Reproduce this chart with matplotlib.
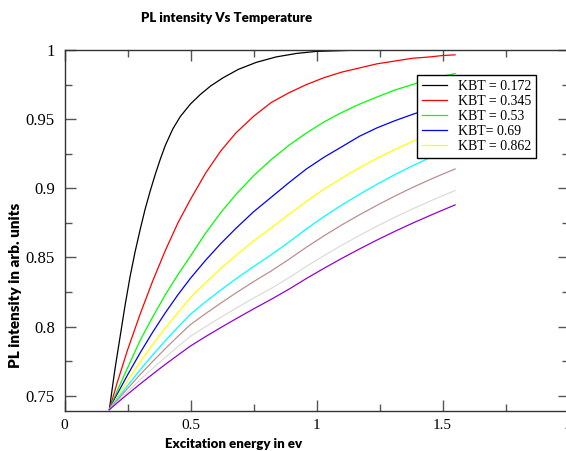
import matplotlib
matplotlib.use("Agg")
import matplotlib.pyplot as plt
from matplotlib.ticker import MultipleLocator

# ---------------- data ----------------
x_black = [0.178, 0.19, 0.20, 0.22, 0.24, 0.26, 0.28, 0.30, 0.32, 0.34, 0.36, 0.38,
           0.40, 0.43, 0.46, 0.50, 0.54, 0.58, 0.63, 0.69, 0.76, 0.84, 0.92, 1.00, 1.18]
y_black = [0.740, 0.756, 0.769, 0.792, 0.815, 0.836, 0.854, 0.870, 0.885, 0.898,
           0.910, 0.921, 0.931, 0.943, 0.952, 0.961, 0.968, 0.974, 0.980, 0.986,
           0.991, 0.995, 0.9975, 0.999, 1.000]

x_common = [0.178, 0.21, 0.25, 0.30, 0.35, 0.40, 0.45, 0.50, 0.56, 0.62, 0.68, 0.75,
            0.82, 0.89, 0.96, 1.03, 1.10, 1.17, 1.24, 1.31, 1.38, 1.45, 1.50, 1.55]
y_red = [0.740, 0.760, 0.783, 0.809, 0.833, 0.855, 0.875, 0.892, 0.911, 0.927,
         0.940, 0.952, 0.962, 0.969, 0.975, 0.980, 0.984, 0.987, 0.990, 0.992,
         0.994, 0.995, 0.996, 0.9965]
y_green = [0.740, 0.754, 0.770, 0.790, 0.807, 0.823, 0.8375, 0.851, 0.8676, 0.8824,
           0.8955, 0.909, 0.9207, 0.931, 0.940, 0.948, 0.9548, 0.9608, 0.966, 0.971,
           0.975, 0.979, 0.981, 0.983]
y_blue = [0.740, 0.7515, 0.765, 0.781, 0.796, 0.810, 0.823, 0.835, 0.848, 0.860,
          0.871, 0.883, 0.8935, 0.904, 0.914, 0.9225, 0.930, 0.9376, 0.9437, 0.9488,
          0.9534, 0.9576, 0.9604, 0.963]
y_yellow = [0.740, 0.7495, 0.7608, 0.7743, 0.787, 0.799, 0.810, 0.821, 0.8317, 0.842,
            0.8514, 0.8618, 0.8714, 0.881, 0.8906, 0.8994, 0.9074, 0.9148, 0.9217,
            0.928, 0.9338, 0.9391, 0.9427, 0.946]
y_cyan = [0.740, 0.748, 0.7573, 0.7687, 0.7795, 0.7898, 0.7996, 0.809, 0.818, 0.8264,
          0.8345, 0.8434, 0.8519, 0.861, 0.8707, 0.8796, 0.8879, 0.8956, 0.9029,
          0.9098, 0.9162, 0.9222, 0.9262, 0.930]
y_tan = [0.740, 0.7469, 0.7552, 0.7653, 0.7749, 0.7841, 0.793, 0.8015, 0.8094, 0.817,
         0.8243, 0.8325, 0.8402, 0.8486, 0.8574, 0.8657, 0.8735, 0.8808, 0.8877,
         0.8943, 0.9005, 0.9063, 0.9102, 0.914]
y_gray = [0.740, 0.7458, 0.7529, 0.7615, 0.7698, 0.7778, 0.7856, 0.793, 0.800, 0.8067,
          0.8132, 0.8206, 0.8276, 0.8353, 0.8436, 0.8514, 0.8588, 0.8659, 0.8726,
          0.879, 0.885, 0.8907, 0.8946, 0.8984]
y_purple = [0.740, 0.745, 0.7511, 0.7585, 0.7657, 0.7727, 0.7794, 0.786, 0.7928, 0.7993,
            0.8056, 0.8128, 0.8197, 0.827, 0.8348, 0.8422, 0.8493, 0.8561, 0.8626,
            0.8688, 0.8747, 0.8803, 0.8842, 0.888]

legend_labels = ["KBT = 0.172", "KBT = 0.345", "KBT = 0.53", "KBT= 0.69", "KBT = 0.862"]

x_ticks = [0, 0.5, 1, 1.5, 2]
x_ticklabels = ["0", "0.5", "1", "1.5", "2"]
y_ticks = [0.75, 0.8, 0.85, 0.9, 0.95, 1.0]
y_ticklabels = ["0.75", "0.8", "0.85", "0.9", "0.95", "1"]

title_text = "PL intensity Vs Temperature"
xlabel_text = "Excitation energy in ev"
ylabel_text = "PL intensity in arb. units"

# ---------------- figure ----------------
fig = plt.figure(figsize=(5.66, 4.51), dpi=100)
W, H = 566.0, 451.0
ax = fig.add_axes([64.5 / W, (H - 411) / H, 504 / W, 361 / H])

lw = 0.9
ax.plot(x_black, y_black, color="black", lw=lw, label=legend_labels[0])
ax.plot(x_common, y_red, color="#ff0000", lw=lw, label=legend_labels[1])
ax.plot(x_common, y_green, color="#00ff00", lw=lw, label=legend_labels[2])
ax.plot(x_common, y_blue, color="#0000ff", lw=lw, label=legend_labels[3])
ax.plot(x_common, y_yellow, color="#ffff00", lw=lw, label=legend_labels[4])
ax.plot(x_common, y_cyan, color="#00ffff", lw=lw)
ax.plot(x_common, y_tan, color="#bc8f8f", lw=lw)
ax.plot(x_common, y_gray, color="#dcdcdc", lw=lw)
ax.plot(x_common, y_purple, color="#9400d3", lw=lw)

ax.set_xlim(0, 2)
ax.set_ylim(0.739, 1.0)
ax.set_xticks(x_ticks)
ax.set_xticklabels(x_ticklabels)
ax.set_yticks(y_ticks)
ax.set_yticklabels(y_ticklabels)
ax.xaxis.set_minor_locator(MultipleLocator(0.25))
ax.yaxis.set_minor_locator(MultipleLocator(0.025))

for s in ax.spines.values():
    s.set_linewidth(1.0)
    s.set_color("#333333")
ax.tick_params(which="both", direction="in", top=True, right=True, color="#555555")
ax.tick_params(which="major", length=8, width=1.0)
ax.tick_params(which="minor", length=5, width=1.0)
ax.tick_params(axis="x", which="major", labelsize=11, pad=6)
ax.tick_params(axis="y", which="major", labelsize=12, pad=7)
for lab in ax.get_xticklabels() + ax.get_yticklabels():
    lab.set_family("Liberation Serif")

leg = ax.legend(loc="upper left", bbox_to_anchor=(0.699, 0.931),
                prop={"family": "Liberation Serif", "size": 10},
                frameon=True, fancybox=False, framealpha=1, edgecolor="black",
                handlelength=1.8, handletextpad=0.8, labelspacing=0.15,
                borderpad=0.35, borderaxespad=0)
leg.get_frame().set_linewidth(1.0)

fig.text(227 / W, 1 - 18 / H, title_text, ha="center", va="center",
         fontsize=9.5, fontweight="heavy", family="Lato")
fig.text(234 / W, 1 - 444 / H, xlabel_text, ha="center", va="center",
         fontsize=9.5, fontweight="heavy", family="Lato")
fig.text(16 / W, 1 - 285 / H, ylabel_text, ha="center", va="center",
         rotation=90, fontsize=11, fontweight="heavy", family="Lato")

fig.savefig("out.png", dpi=100)
